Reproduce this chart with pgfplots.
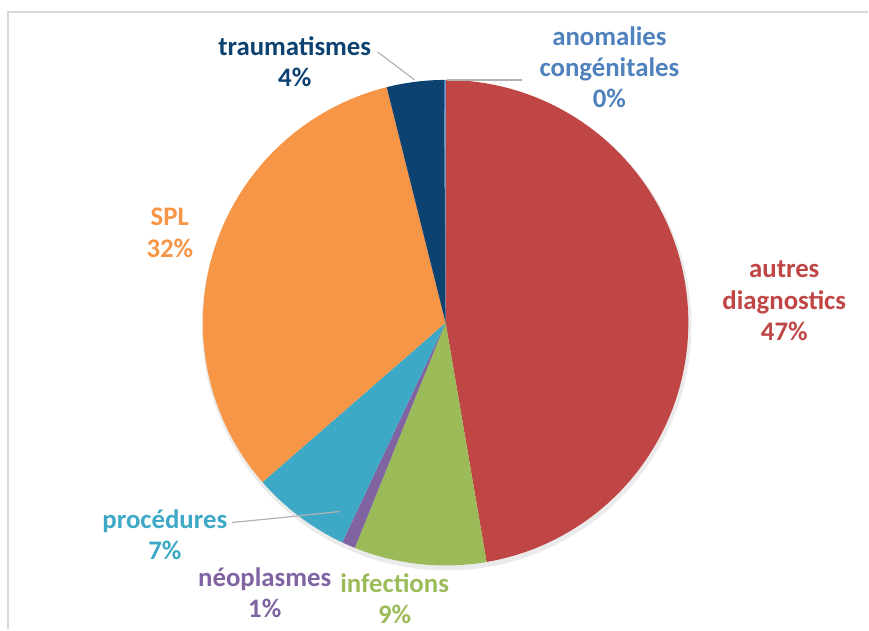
\documentclass[border=0pt]{standalone}
\usepackage{pgfplots}
\pgfplotsset{compat=1.18}
\usepackage{fontspec}
\setmainfont{Carlito}
\definecolor{cRed}{HTML}{BF4645}
\definecolor{cGreen}{HTML}{9BBB59}
\definecolor{cPurple}{HTML}{8064A2}
\definecolor{cCyan}{HTML}{3DA9C6}
\definecolor{cOrange}{HTML}{F79646}
\definecolor{cNavy}{HTML}{0C4170}
\definecolor{cBlue}{HTML}{4F81BD}
% shares (percent), clockwise from 12 o'clock
\def\vA{47.3}% autres diagnostics
\def\vB{8.8}%  infections
\def\vC{0.9}%  neoplasmes
\def\vD{6.6}%  procedures
\def\vE{32.5}% SPL
\def\vF{3.8}%  traumatismes
\def\vG{0.1}%  anomalies congenitales
\pgfmathsetmacro\aA{90}
\pgfmathsetmacro\aB{\aA-3.6*\vA}
\pgfmathsetmacro\aC{\aB-3.6*\vB}
\pgfmathsetmacro\aD{\aC-3.6*\vC}
\pgfmathsetmacro\aE{\aD-3.6*\vD}
\pgfmathsetmacro\aF{\aE-3.6*\vE}
\pgfmathsetmacro\aG{\aF-3.6*\vF}
\pgfmathsetmacro\aH{\aG-3.6*\vG}
\newcommand\slice[3]{%
  \addplot[fill=#1, draw=none, domain=#2:#3, samples=90, variable=\t]
    ({446+243*cos(\t)},{307+243*sin(\t)}) -- (446,307) -- cycle;}
\tikzset{lbl/.style={font=\fontsize{13.4}{15.6}\selectfont\bfseries, align=center}}
\begin{document}
\begin{tikzpicture}
\begin{axis}[
  width=434.5pt, height=315pt, scale only axis,
  xmin=0, xmax=869, ymin=0, ymax=630,
  hide axis, clip=false,
]
\path (0,0) (869,630);
% frame
\draw[color=gray!30, line width=0.8pt] (8,0) -- (8,618) -- (869,618);
% soft shadow
\fill[black, opacity=0.08] (447,304) circle[radius=245];
\slice{cRed}{\aB}{\aA}
\slice{cGreen}{\aC}{\aB}
\slice{cPurple}{\aD}{\aC}
\slice{cCyan}{\aE}{\aD}
\slice{cOrange}{\aF}{\aE}
\slice{cNavy}{\aG}{\aF}
\slice{cBlue}{\aH}{\aG}
% leader lines
\draw[gray!60, line width=0.6pt] (378,578) -- (415,550);
\draw[gray!60, line width=0.6pt] (447,550) -- (522,550);
\draw[gray!60, line width=0.6pt] (232,107) -- (283,112) -- (340,118);
% labels
\node[lbl, text=cNavy] at (295,568) {traumatismes\\4\%};
\node[lbl, text=cBlue] at (610,563) {anomalies\\congénitales\\0\%};
\node[lbl, text=cRed] at (785,329) {autres\\diagnostics\\47\%};
\node[lbl, text=cOrange] at (170,397) {SPL\\32\%};
\node[lbl, text=cCyan] at (165,95) {procédures\\7\%};
\node[lbl, text=cPurple] at (265,37) {néoplasmes\\1\%};
\node[lbl, text=cGreen] at (395,31) {infections\\9\%};
\end{axis}
\end{tikzpicture}
\end{document}
